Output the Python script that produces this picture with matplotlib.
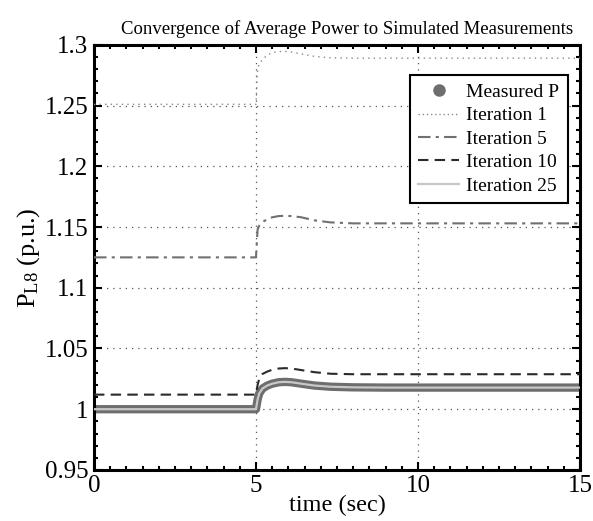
import numpy as np
import matplotlib
matplotlib.use('Agg')
import matplotlib.pyplot as plt
from matplotlib.lines import Line2D
from matplotlib.ticker import MultipleLocator

plt.rcParams['font.family'] = ['Liberation Serif', 'DejaVu Serif']
plt.rcParams['mathtext.fontset'] = 'custom'
plt.rcParams['mathtext.rm'] = 'Liberation Serif'
plt.rcParams['mathtext.it'] = 'Liberation Serif:italic'

# time samples (sec)
t = [0, 4.99, 5.0, 5.05, 5.1, 5.2, 5.35, 5.5, 5.7, 5.9, 6.1, 6.4, 6.8, 7.3, 8, 9, 10, 12, 15]

measured_p = [1.0, 1.0, 1.0, 1.008, 1.013, 1.017, 1.0195, 1.021, 1.0222, 1.0225, 1.0222,
              1.021, 1.0195, 1.0185, 1.018, 1.0178, 1.0178, 1.0178, 1.0178]
iter1 = [1.251, 1.251, 1.251, 1.28, 1.284, 1.288, 1.2915, 1.2935, 1.2945, 1.2945, 1.294,
         1.2925, 1.2905, 1.2893, 1.289, 1.289, 1.289, 1.289, 1.289]
iter5 = [1.125, 1.125, 1.125, 1.148, 1.151, 1.154, 1.1565, 1.158, 1.159, 1.1592, 1.159,
         1.158, 1.1555, 1.1538, 1.153, 1.153, 1.153, 1.153, 1.153]
iter10 = [1.012, 1.012, 1.012, 1.02, 1.025, 1.029, 1.031, 1.0325, 1.0335, 1.0338, 1.0335,
          1.0322, 1.0305, 1.0292, 1.0288, 1.0288, 1.0288, 1.0288, 1.0288]
iter25 = measured_p

fig = plt.figure(figsize=(5.93, 5.21), dpi=100)
ax = fig.add_axes([0.1585, 0.098, 0.8195, 0.816])

ax.plot(t, measured_p, color='#6e6e6e', lw=6, solid_capstyle='round', solid_joinstyle='round', zorder=2)
ax.plot(t, iter1, color='#8a8a8a', lw=1.0, ls=(0, (1, 3)), zorder=3)
ax.plot(t, iter5, color='#707070', lw=1.5, ls=(0, (6, 2.5, 1.5, 2.5)), zorder=3)
ax.plot(t, iter10, color='#2a2a2a', lw=1.5, ls=(0, (5, 3)), zorder=3)
ax.plot(t, iter25, color='#c8c8c8', lw=1.6, zorder=4)

ax.set_xlim(0, 15)
ax.set_ylim(0.95, 1.3)
ax.xaxis.set_major_locator(MultipleLocator(5))
ax.xaxis.set_minor_locator(MultipleLocator(0.5))
ax.yaxis.set_major_locator(MultipleLocator(0.05))
ax.yaxis.set_minor_locator(MultipleLocator(0.01))
ax.set_yticks([0.95, 1.0, 1.05, 1.1, 1.15, 1.2, 1.25, 1.3])
ax.set_yticklabels(['0.95', '1', '1.05', '1.1', '1.15', '1.2', '1.25', '1.3'])
ax.tick_params(which='both', direction='in', top=True, right=True, labelsize=18, width=1.5)
ax.tick_params(which='major', length=6, pad=4)
ax.tick_params(which='minor', length=3)
for s in ax.spines.values():
    s.set_linewidth(2.2)
ax.grid(True, which='major', color='#555555', ls=(0, (1, 4)), lw=0.9)

ax.set_title('Convergence of Average Power to Simulated Measurements', fontsize=13.5, pad=8, x=0.52)
ax.set_xlabel('time (sec)', fontsize=17.5, labelpad=-2)
ax.set_ylabel(r'P$_{\mathrm{L8}}$ (p.u.)', fontsize=19, labelpad=2)

handles = [
    Line2D([], [], color='#6e6e6e', marker='o', ls='none', markersize=8),
    Line2D([], [], color='#8a8a8a', lw=1.0, ls=(0, (1, 2))),
    Line2D([], [], color='#707070', lw=1.5, ls=(0, (6, 2.5, 1.5, 2.5))),
    Line2D([], [], color='#2a2a2a', lw=1.5, ls=(0, (5, 3))),
    Line2D([], [], color='#c8c8c8', lw=1.6),
]
labels = ['Measured P', 'Iteration 1', 'Iteration 5', 'Iteration 10', 'Iteration 25']
leg = ax.legend(handles, labels, loc='upper right', bbox_to_anchor=(0.975, 0.93), fontsize=14,
                fancybox=False, framealpha=1, edgecolor='black', borderpad=0.45,
                handlelength=2.1, handletextpad=0.35, labelspacing=0.3, borderaxespad=0)
leg.get_frame().set_linewidth(1.5)

fig.savefig('out.png', dpi=100)
